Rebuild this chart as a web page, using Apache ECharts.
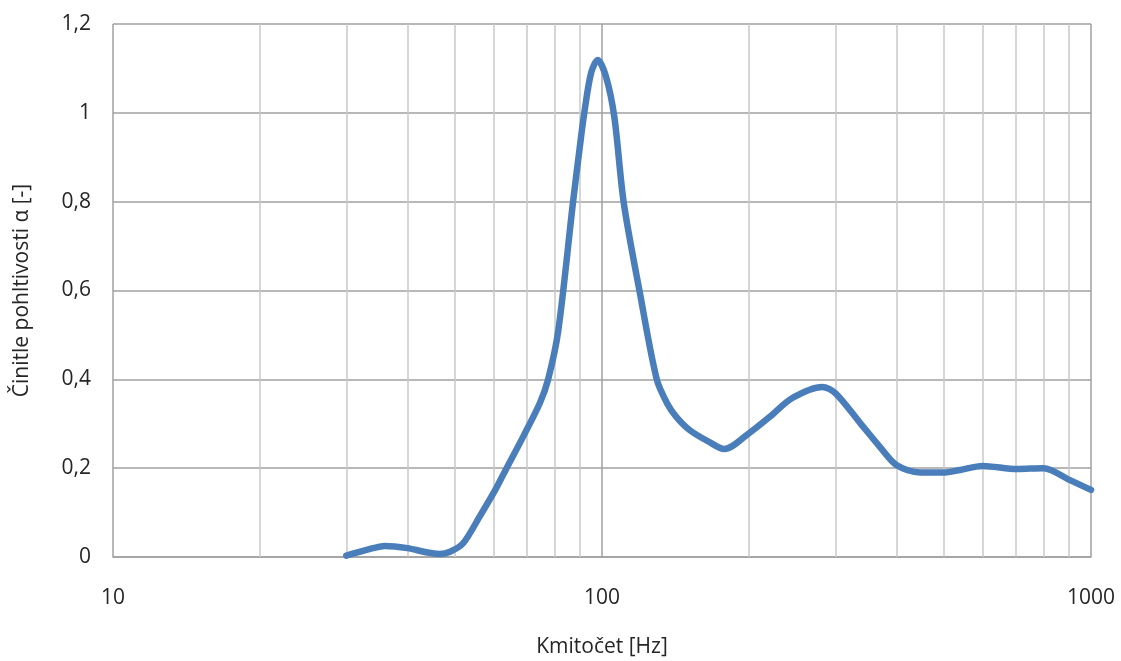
<!DOCTYPE html>
<html>
<head>
<meta charset="utf-8">
<script src="https://cdn.jsdelivr.net/npm/echarts@6/dist/echarts.min.js"></script>
<style>html,body{margin:0;padding:0;background:#fff}#c{width:1121px;height:661px}</style>
</head>
<body>
<div id="c"></div>
<script>
const freqs = [30, 33, 36, 40, 44, 46.5, 48.9, 52, 56.2, 60.5, 63.8, 69, 74.6, 77.6, 81.4, 87.2, 90, 92, 95, 98, 102, 106, 110.8, 119.5, 129.4, 136, 142, 151, 165, 178, 200, 220, 245, 282, 300, 337, 370, 400, 447, 500, 540, 600, 706, 800, 906, 1000];
const alpha = [0.003, 0.016, 0.025, 0.02, 0.01, 0.007, 0.012, 0.031, 0.091, 0.151, 0.2, 0.271, 0.346, 0.40, 0.51, 0.797, 0.92, 1.0, 1.09, 1.119, 1.08, 0.99, 0.797, 0.595, 0.40, 0.345, 0.315, 0.286, 0.26, 0.243, 0.279, 0.315, 0.358, 0.383, 0.369, 0.302, 0.248, 0.207, 0.19, 0.19, 0.196, 0.205, 0.198, 0.2, 0.173, 0.151];
const minorGridFreqs = [20, 30, 40, 50, 60, 70, 80, 90, 200, 300, 400, 500, 600, 700, 800, 900];
const xTickLabels = {10: '10', 100: '100', 1000: '1000'};
const yTicks = [0, 0.2, 0.4, 0.6, 0.8, 1, 1.2];

const chart = echarts.init(document.getElementById('c'), null, {renderer: 'canvas'});
const font = 'Open Sans, Noto Sans, sans-serif';
chart.setOption({
  animation: false,
  grid: {left: 113, right: 30, top: 24, bottom: 104, containLabel: false, outerBoundsMode: 'none'},
  xAxis: {
    type: 'log', logBase: 10, min: 10, max: 1000,
    name: 'Kmitočet [Hz]', nameLocation: 'middle', nameGap: 80,
    nameTextStyle: {fontFamily: font, fontSize: 21, color: '#262626'},
    axisLine: {show: true, lineStyle: {color: '#a0a0a0', width: 1.5}},
    axisTick: {show: false},
    axisLabel: {fontFamily: font, fontSize: 21, color: '#262626', margin: 31,
      formatter: v => xTickLabels[Math.round(v)] || String(Math.round(v))},
    splitLine: {show: true, lineStyle: {color: '#a0a0a0', width: 1.5}},
    minorTick: {show: false}, minorSplitLine: {show: false}
  },
  yAxis: {
    type: 'value', min: 0, max: 1.2, interval: 0.2,
    name: 'Činitle pohltivosti α [-]', nameLocation: 'middle', nameGap: 80, nameRotate: 90,
    nameTextStyle: {fontFamily: font, fontSize: 21, color: '#262626'},
    axisLine: {show: false}, axisTick: {show: false},
    axisLabel: {fontFamily: font, fontSize: 21, color: '#262626', margin: 22,
      formatter: v => { const t = yTicks.find(x => Math.abs(x - v) < 1e-9); return String(Math.round((t === undefined ? v : t) * 10) / 10).replace('.', ','); }},
    splitLine: {show: true, lineStyle: {color: '#a0a0a0', width: 1.5}}
  },
  series: [
    {
      type: 'line', data: [], z: 1, silent: true,
      markLine: {
        silent: true, symbol: 'none', animation: false,
        label: {show: false},
        lineStyle: {color: '#c8c8c8', width: 1.5, type: 'solid'},
        data: minorGridFreqs.map(f => ({xAxis: f}))
      }
    },
    {
      type: 'line', z: 5,
      data: freqs.map((f, i) => [f, alpha[i]]),
      smooth: 0.3, showSymbol: false,
      lineStyle: {color: '#4a7ebb', width: 6.5, cap: 'round', join: 'round'}
    }
  ]
});
</script>
</body>
</html>
